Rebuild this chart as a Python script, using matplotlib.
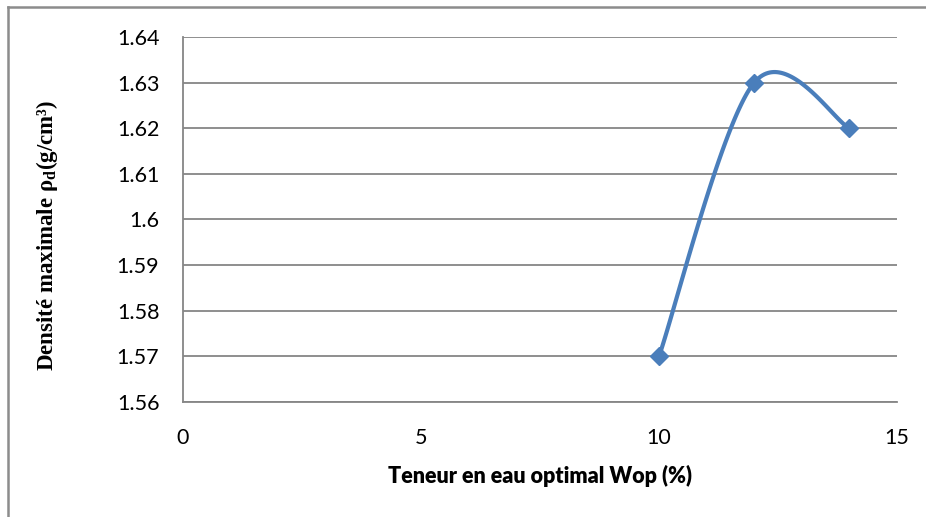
import numpy as np
import matplotlib
matplotlib.use("Agg")
import matplotlib.pyplot as plt
from matplotlib.lines import Line2D
from matplotlib.ticker import FuncFormatter

# data
wop = [10, 12, 14]
rho_d = [1.57, 1.63, 1.62]
x_ticks = [0, 5, 10, 15]
y_ticks = [1.56, 1.57, 1.58, 1.59, 1.60, 1.61, 1.62, 1.63, 1.64]

plt.rcParams['mathtext.fontset'] = 'custom'
plt.rcParams['mathtext.rm'] = 'Liberation Serif:bold'
plt.rcParams['mathtext.it'] = 'Liberation Serif:bold'
plt.rcParams['mathtext.bf'] = 'Liberation Serif:bold'

W, H = 926, 517
fig = plt.figure(figsize=(W / 100, H / 100), dpi=100)
ax = fig.add_axes([183 / W, 1 - 402 / H, (897 - 183) / W, (402 - 37) / H])

ax.set_xlim(0, 15)
ax.set_ylim(1.56, 1.64)
ax.set_xticks(x_ticks)
ax.set_yticks(y_ticks)
ax.yaxis.set_major_formatter(FuncFormatter(lambda v, p: '%g' % round(v, 2)))
ax.tick_params(length=0, labelsize=15.5, pad=17)
for lab in ax.get_xticklabels() + ax.get_yticklabels():
    lab.set_family('Lato')
ax.tick_params(axis='x', pad=19)

ax.grid(axis='y', color='#868686', linewidth=1.3)
ax.set_axisbelow(True)
for s in ['top', 'right']:
    ax.spines[s].set_visible(False)
for s in ['left', 'bottom']:
    ax.spines[s].set_color('#868686')
    ax.spines[s].set_linewidth(1.3)

# Excel-like smoothed line (bezier in screen space)
fig.canvas.draw()
pts = ax.transData.transform(np.column_stack([wop, rho_d]))
n = len(pts)
curve = []
for i in range(n - 1):
    p0 = pts[max(i - 1, 0)]
    p1 = pts[i]
    p2 = pts[i + 1]
    p3 = pts[min(i + 2, n - 1)]
    c1 = p1 + (p2 - p0) / 6
    c2 = p2 - (p3 - p1) / 6
    t = np.linspace(0, 1, 60)[:, None]
    seg = (1 - t) ** 3 * p1 + 3 * (1 - t) ** 2 * t * c1 + 3 * (1 - t) * t ** 2 * c2 + t ** 3 * p2
    curve.append(seg)
curve = ax.transData.inverted().transform(np.vstack(curve))
ax.plot(curve[:, 0], curve[:, 1], color='#4a7ebb', linewidth=3, solid_capstyle='round', clip_on=False)
ax.plot(wop, rho_d, linestyle='none', marker='D', markersize=9.5, color='#4a7ebb', clip_on=False)

ax.set_xlabel('Teneur en eau optimal Wop (%)', fontsize=15.5, fontweight='heavy', family='Lato')
ax.xaxis.set_label_coords(0.5, 1 - (476 - 37) / (402 - 37))
ax.xaxis.label.set_va('center')
fig.text(47 / W, 1 - 235 / H, 'Densité maximale ρ$_\\mathregular{d}$(g/cm³)', rotation=90,
         ha='center', va='center', fontsize=16.5, fontweight='bold', family='Liberation Serif')

# outer chart border (left and top edges visible)
fig.add_artist(Line2D([8 / W, 8 / W], [0, 1 - 7 / H], color='#8c8c8c', linewidth=1.8))
fig.add_artist(Line2D([8 / W, 1], [1 - 7 / H, 1 - 7 / H], color='#8c8c8c', linewidth=1.8))

fig.savefig('out.png', dpi=100)
